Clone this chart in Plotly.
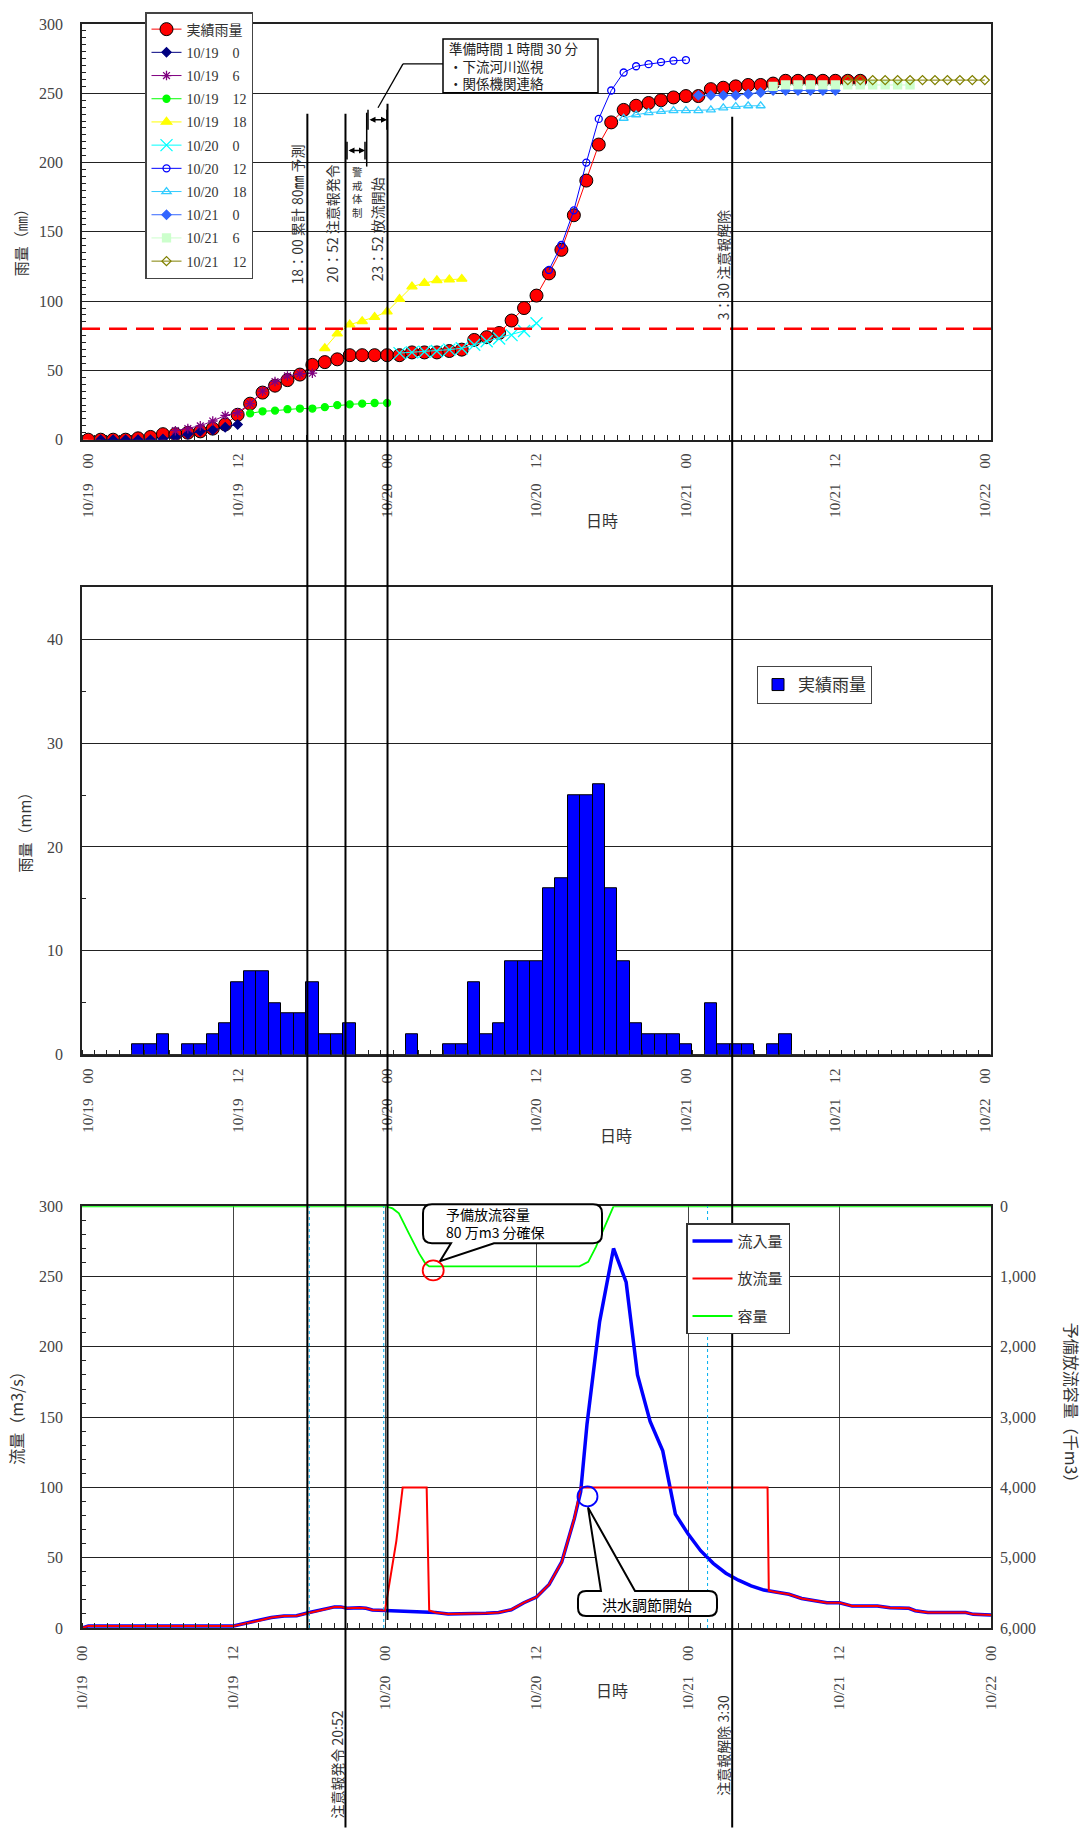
import plotly.graph_objects as go

W, H = 1089, 1832
ML, MR, MT, MB = 82, 98, 19, 204
PW = W - ML - MR
PH = H - MT - MB


def PX(p):
    return (p - ML) / PW


def PY(p):
    return (H - MB - p) / PH


SERIF = "Liberation Serif, Noto Sans CJK JP, serif"
JP = "Noto Sans CJK JP, sans-serif"
TXT = "#333333"

# ---------------- data ----------------
tick_pos = [0, 12, 24, 36, 48, 60, 72]
tick_labels = ["10/19\u300000", "10/19\u300012", "10/20\u300000", "10/20\u300012",
               "10/21\u300000", "10/21\u300012", "10/22\u300000"]

# hourly rainfall (mm), category index 0..72
hourly_rain = [0, 0, 0, 0, 1, 1, 2, 0, 1, 1,
               2, 3, 7, 8, 8, 5, 4, 4, 7, 2,
               2, 3, 0, 0, 0, 0, 2, 0, 0, 1,
               1, 7, 2, 3, 9, 9, 9, 16, 17, 25,
               25, 26, 16, 9, 3, 2, 2, 2, 1, 0,
               5, 1, 1, 1, 0, 1, 2, 0, 0, 0,
               0, 0, 0, 0, 0, 0, 0, 0, 0, 0,
               0, 0, 0]

# cumulative observed rainfall (mm), index 0..62
cum_rain = [0, 0, 0, 0, 1, 2, 4, 4, 5, 6,
            8, 11, 18, 26, 34, 39, 43, 47, 54, 56,
            58, 61, 61, 61, 61, 61, 63, 63, 63, 64,
            65, 72, 74, 77, 86, 95, 104, 120, 137, 162,
            187, 213, 229, 238, 241, 243, 245, 247, 248, 248,
            253, 254, 255, 256, 256, 257, 259, 259, 259, 259,
            259, 259, 259]

# forecast series: first category index and values
fc_names = ["10/19\u30000", "10/19\u30006", "10/19\u300012", "10/19\u300018",
            "10/20\u30000", "10/20\u30006", "10/20\u300012", "10/20\u300018",
            "10/21\u30000", "10/21\u30006", "10/21\u300012"]
fc_start = [1, 7, 13, 19, 25, 31, 37, 43, 49, 55, 61]
fc_1019_00 = [0, 0, 0, 0, 0, 0.5, 2, 4, 6, 7, 9, 11]
fc_1019_06 = [6.5, 8, 10, 13.5, 17.5, 19.5, 26, 35, 42, 46, 47.5, 48]
fc_1019_12 = [19, 20.5, 21, 22, 22.5, 22.5, 23.5, 25, 25.5, 26, 26.5, 26.5]
fc_1019_18 = [66, 76.5, 83, 85.5, 88.5, 92.5, 101.5, 110.5, 113, 115, 115.5, 116]
fc_1020_00 = [62.5, 63, 63.5, 64, 65, 66, 68.5, 71, 73, 75.5, 78.5, 84]
fc_1020_06 = []
fc_1020_12 = [122.5, 140.5, 165.5, 200, 231.5, 252, 265, 269.5, 271, 272.5, 273.5, 274]
fc_1020_18 = [232, 234.5, 236, 237, 237.5, 237.5, 237.5, 238, 239.5, 240.5, 241, 241]
fc_1021_00 = [248.5, 248.5, 248.5, 248.5, 249.5, 250.5, 252, 252, 252, 252, 252, 252]
fc_1021_06 = [255, 256, 256, 256, 256, 256, 256, 256, 256, 256, 256, 256]
fc_1021_12 = [259.5, 259.5, 259.5, 259.5, 259.5, 259.5, 259.5, 259.5, 259.5, 259.5, 259.5, 259.5]
fc_values = [fc_1019_00, fc_1019_06, fc_1019_12, fc_1019_18, fc_1020_00, fc_1020_06,
             fc_1020_12, fc_1020_18, fc_1021_00, fc_1021_06, fc_1021_12]
fc_colors = ["#000080", "#800080", "#00FF00", "#FFFF00", "#00FFFF", "#FF00FF",
             "#0000FF", "#33CCFF", "#3366FF", "#CCFFCC", "#808000"]
fc_symbols = ["diamond", "asterisk-open", "circle", "triangle-up", "x-thin-open", "triangle-up",
              "circle-open", "triangle-up-open", "diamond", "square", "diamond-open"]
fc_sizes = [7, 8, 7, 9, 12, 9, 7, 8, 7, 8, 7]

# flows (hours from 10/19 00)
inflow_t = [0, 0.5, 12, 13, 14, 15, 16, 17, 18, 19,
            20, 20.5, 21, 22, 22.5, 23, 24, 25, 26, 27,
            28, 29, 31, 32, 33, 34, 35, 36, 37, 38,
            39, 39.5, 40, 41, 42.1, 43.1, 44, 45, 46, 47,
            48, 49, 50, 51, 52, 53, 54, 55, 56, 57,
            58, 59, 60, 61, 63, 64, 65.5, 66, 67, 70,
            70.6, 72]
inflow_q = [0, 1.5, 1.5, 3.3, 5.2, 7.5, 8.5, 8.7, 11, 12.8,
            15, 15, 14, 14.4, 14, 12.8, 12.5, 12, 12, 11.3,
            11, 10, 10, 10.5, 11, 13, 18, 22, 31, 47,
            78, 97, 145, 218, 270, 246, 180, 147, 126, 81,
            67, 55, 46, 39, 34, 30, 27, 25.5, 24, 21,
            19.5, 18, 18, 15.6, 15.6, 14.4, 14, 12.3, 11, 11,
            9.7, 9.2]
outflow_t = [0, 0.5, 12, 13, 14, 15, 16, 17, 18, 19,
             20, 20.5, 21, 22, 22.5, 23, 24, 24.9, 25.4, 27.3,
             27.5, 28, 29, 31, 32, 33, 34, 35, 36, 37,
             38, 39, 39.5, 54.3, 54.4, 55, 56, 57, 58, 59,
             60, 61, 63, 64, 65.5, 66, 67, 70, 70.6, 72]
outflow_q = [0, 1.5, 1.5, 3.3, 5.2, 7.5, 8.5, 8.7, 11, 12.8,
             15, 15, 14, 14.4, 14, 12.8, 12.5, 62, 100, 100,
             12.5, 11, 10, 10, 10.5, 11, 13, 18, 22, 31,
             47, 78, 100, 100, 26.5, 25.5, 24, 21, 19.5, 18,
             18, 15.6, 15.6, 14.4, 14, 12.3, 11, 11, 9.7, 9.2]
capacity_t = [0, 24.1, 24.6, 25.1, 25.9, 26.7, 27.2, 27.5, 39.4, 40.1, 40.7, 41.3, 42.1, 72]
capacity_v = [0, 0, 30, 100, 390, 670, 815, 855, 855, 790, 580, 340, 0, 0]

warn_level = 80
event_hours = [17.85, 20.87, 24.2, 51.5]
event_top_px = [109, 109, 99, 112]
event_bottom_px = [1630, 1828, 1620, 1828]
dotted_hours = [18.0, 23.9, 49.55]

# ---------------- figure ----------------
fig = go.Figure()

fig.add_trace(go.Scatter(
    x=list(range(len(cum_rain))), y=cum_rain, mode="lines+markers", name="実績雨量",
    line=dict(color="#FF0000", width=1),
    marker=dict(color="#FF0000", size=13, line=dict(color="black", width=1)),
    xaxis="x", yaxis="y", legend="legend", legendgroup="g0"))

for k, (nm, st, vals, col, sym, sz) in enumerate(zip(fc_names, fc_start, fc_values, fc_colors, fc_symbols, fc_sizes)):
    fig.add_trace(go.Scatter(
        x=list(range(st, st + len(vals))), y=vals, mode="lines+markers", name=nm,
        line=dict(color=col, width=1),
        marker=dict(color=col, symbol=sym, size=sz, line=dict(color=col, width=1.3)),
        xaxis="x", yaxis="y", legend="legend", legendgroup="g%d" % (k + 1)))

fig.add_trace(go.Bar(
    x=list(range(len(hourly_rain))), y=hourly_rain, name="実績雨量", width=1,
    marker=dict(color="#0000FF", line=dict(color="black", width=1)),
    xaxis="x2", yaxis="y2", legend="legend2"))

fig.add_trace(go.Scatter(x=inflow_t, y=inflow_q, mode="lines", name="流入量",
                         line=dict(color="#0000FF", width=3.5),
                         xaxis="x3", yaxis="y3", legend="legend3", legendgroup="f1"))
fig.add_trace(go.Scatter(x=outflow_t, y=outflow_q, mode="lines", name="放流量",
                         line=dict(color="#FF0000", width=2),
                         xaxis="x3", yaxis="y3", legend="legend3", legendgroup="f2"))
fig.add_trace(go.Scatter(x=capacity_t, y=capacity_v, mode="lines", name="容量",
                         line=dict(color="#00FF00", width=1.8),
                         xaxis="x3", yaxis="y4", legend="legend3", legendgroup="f3"))

# ---------------- axes ----------------
line_kw = dict(showline=True, mirror=True, linecolor="#222", linewidth=1.5, zeroline=False)
xcat = dict(range=[-0.5, 72.5], tickvals=tick_pos, ticktext=tick_labels, tickangle=-90,
            ticks="", showgrid=False, ticklabelstandoff=6,
            tickfont=dict(family=SERIF, size=15, color="#444"),
            minor=dict(dtick=1, tick0=-0.5, ticks="inside", ticklen=5, tickcolor="#222", showgrid=False),
            **line_kw)

fig.update_layout(
    width=W, height=H, margin=dict(l=ML, r=MR, t=MT, b=MB),
    paper_bgcolor="white", plot_bgcolor="white", hovermode=False, bargap=0,
    font=dict(family=SERIF, color=TXT),
    xaxis=dict(domain=[0, 1], anchor="y", **xcat),
    yaxis=dict(domain=[PY(436), 1], anchor="x", range=[0, 300], dtick=50,
               showgrid=True, gridcolor="#222", gridwidth=1,
               ticks="inside", ticklen=6, tickcolor="#222", ticklabelstandoff=14,
               tickfont=dict(family=SERIF, size=16, color="#444"),
               minor=dict(dtick=5, ticks="inside", ticklen=4, tickcolor="#222", showgrid=False),
               **line_kw),
    xaxis2=dict(domain=[0, 1], anchor="y2", **xcat),
    yaxis2=dict(domain=[PY(1053), PY(584)], anchor="x2", range=[0, 45],
                tickvals=[0, 10, 20, 30, 40],
                showgrid=True, gridcolor="#222", gridwidth=1,
                ticks="inside", ticklen=6, tickcolor="#222", ticklabelstandoff=14,
                tickfont=dict(family=SERIF, size=16, color="#444"),
                minor=dict(dtick=5, ticks="inside", ticklen=4, tickcolor="#222", showgrid=False),
                **line_kw),
    xaxis3=dict(domain=[0, 1], anchor="y3", range=[0, 72], tickvals=tick_pos, ticktext=tick_labels,
                tickangle=-90, ticks="", showgrid=True, gridcolor="#444", gridwidth=1,
                ticklabelstandoff=10, tickfont=dict(family=SERIF, size=15, color="#444"),
                minor=dict(dtick=1, ticks="inside", ticklen=5, tickcolor="#222", showgrid=False),
                **line_kw),
    yaxis3=dict(domain=[0, PY(1205)], anchor="x3", range=[0, 300], dtick=50,
                showgrid=True, gridcolor="#222", gridwidth=1,
                ticks="inside", ticklen=6, tickcolor="#222", ticklabelstandoff=14,
                tickfont=dict(family=SERIF, size=16, color="#444"),
                minor=dict(dtick=10, ticks="inside", ticklen=4, tickcolor="#222", showgrid=False),
                **line_kw),
    yaxis4=dict(overlaying="y3", anchor="x3", side="right", range=[6000, 0], dtick=1000,
                tickformat=",", showgrid=False, zeroline=False,
                ticks="inside", ticklen=5, tickcolor="#222", ticklabelstandoff=8,
                tickfont=dict(family=SERIF, size=16, color="#444")),
    legend=dict(x=PX(145), y=PY(7), xanchor="left", yanchor="top", bgcolor="white",
                bordercolor="#444", borderwidth=1.5, tracegroupgap=2, itemwidth=30,
                font=dict(family=SERIF, size=14, color=TXT)),
    legend2=dict(x=PX(757), y=PY(663), xanchor="left", yanchor="top", bgcolor="white",
                 bordercolor="#444", borderwidth=1, itemwidth=30,
                 font=dict(family=JP, size=17, color=TXT)),
    legend3=dict(x=PX(686), y=PY(1222), xanchor="left", yanchor="top", bgcolor="white",
                 bordercolor="#333", borderwidth=1.5, tracegroupgap=15, itemwidth=40,
                 font=dict(family=SERIF, size=15, color=TXT)),
)

# ---------------- shapes ----------------
shapes = []
shapes.append(dict(type="line", xref="x domain", x0=0, x1=1, yref="y", y0=warn_level, y1=warn_level,
                   line=dict(color="#FF0000", width=2.5, dash="18px,9px")))
for h in dotted_hours:
    shapes.append(dict(type="line", xref="x3", x0=h, x1=h, yref="y3 domain", y0=0, y1=1,
                       line=dict(color="#00AEEF", width=1, dash="dot")))
for h, t, b in zip(event_hours, event_top_px, event_bottom_px):
    shapes.append(dict(type="line", xref="x3", x0=h, x1=h, yref="paper", y0=PY(b), y1=PY(t),
                       line=dict(color="black", width=2)))


def seg(x0, y0, x1, y1, w=1.5, col="black"):
    return dict(type="line", xref="paper", yref="paper", x0=PX(x0), y0=PY(y0), x1=PX(x1), y1=PY(y1),
                line=dict(color=col, width=w))


shapes.append(seg(366.7, 108, 366.7, 162, 1.5))
for x in (347, 365):
    shapes.append(seg(x, 137, x, 155, 1.5))
for x in (368, 387):
    shapes.append(seg(x, 105, x, 125, 1.5))
shapes.append(seg(443, 59, 403, 59, 1.3))
shapes.append(seg(403, 59, 378, 103, 1.3))
shapes.append(dict(type="rect", xref="paper", yref="paper", x0=PX(443), x1=PX(598), y0=PY(88), y1=PY(34),
                   line=dict(color="black", width=1.5), fillcolor="white"))


def path_px(pts):
    out = []
    for cmd, coords in pts:
        if coords:
            c = " ".join("%.5f,%.5f" % (PX(coords[i]), PY(coords[i + 1])) for i in range(0, len(coords), 2))
            out.append(cmd + " " + c)
        else:
            out.append(cmd)
    return " ".join(out)


def callout(x0, y0, x1, y1, r, edge, a, tipx, tipy, b):
    pts = [("M", [x0 + r, y0])]
    if edge == "top":
        pts += [("L", [a, y0]), ("L", [tipx, tipy]), ("L", [b, y0])]
    pts += [("L", [x1 - r, y0]), ("Q", [x1, y0, x1, y0 + r]), ("L", [x1, y1 - r]), ("Q", [x1, y1, x1 - r, y1])]
    if edge == "bottom":
        pts += [("L", [b, y1]), ("L", [tipx, tipy]), ("L", [a, y1])]
    pts += [("L", [x0 + r, y1]), ("Q", [x0, y1, x0, y1 - r]), ("L", [x0, y0 + r]), ("Q", [x0, y0, x0 + r, y0]),
            ("Z", [])]
    return dict(type="path", xref="paper", yref="paper", path=path_px(pts),
                line=dict(color="black", width=2), fillcolor="white")


shapes.append(callout(423, 1203, 602, 1242, 9, "bottom", 451, 440, 1260, 494))
shapes.append(callout(578, 1591, 717, 1616, 8, "top", 601, 588, 1507, 635))
shapes.append(dict(type="circle", xref="paper", yref="paper", x0=PX(422.7), x1=PX(443.7), y0=PY(1279.3),
                   y1=PY(1259.3), line=dict(color="#FF0000", width=1.8)))
shapes.append(dict(type="circle", xref="paper", yref="paper", x0=PX(577.5), x1=PX(597.5), y0=PY(1506),
                   y1=PY(1486), line=dict(color="#0000FF", width=1.8)))
fig.update_layout(shapes=shapes)

# ---------------- annotations ----------------
ann = []


def text(s, x, y, size=14, angle=0, col=TXT, fam=JP, xa="center", ya="middle", **kw):
    ann.append(dict(text=s, x=PX(x), y=PY(y), xref="paper", yref="paper", showarrow=False,
                    textangle=angle, xanchor=xa, yanchor=ya,
                    font=dict(family=fam, size=size, color=col), **kw))


text("雨量（㎜）", 20, 235, 15, -90)
text("雨量（mm）", 24, 826, 15, -90)
text("流量（m3/s）", 16, 1414, 16, -90)
text("予備放流容量（千m3）", 1072, 1406, 16, 90)
text("日時", 602, 517, 16)
text("日時", 616, 1133, 16)
text("日時", 612, 1690, 16)

text("18：00 累計 80㎜ 予測", 297, 210, 14, -90)
text("20：52 注意報発令", 332, 219, 14, -90)
text("23：52 放流開始", 377, 225, 14, -90)
text("3：30 注意報解除", 723, 261, 14, -90)
text("警<br>戒<br>体<br>制", 357, 188, 10.5)
text("注意報発令 20:52", 337, 1765, 14, -90)
text("注意報解除 3:30", 723, 1746, 14, -90)

text("準備時間 1 時間 30 分<br>・下流河川巡視<br>・関係機関連絡", 447, 61, 13.5, xa="left", col="#222",
     align="left")
text("予備放流容量<br>80 万m3 分確保", 444, 1222, 14, xa="left", col="black", align="left")
text("洪水調節開始", 647, 1604, 15, col="black")

for (xs, xe, y) in [(347, 365, 146), (368, 387, 115)]:
    ann.append(dict(x=PX(xe), y=PY(y), xref="paper", yref="paper", ax=-(xe - xs), ay=0,
                    showarrow=True, arrowside="end+start", arrowhead=2, arrowsize=0.8,
                    arrowwidth=1.5, arrowcolor="black", text="", standoff=0, startstandoff=0))

fig.update_layout(annotations=ann)

fig.write_html("out.html", config={"displayModeBar": False},
               post_script="document.body.style.margin='0px';")
